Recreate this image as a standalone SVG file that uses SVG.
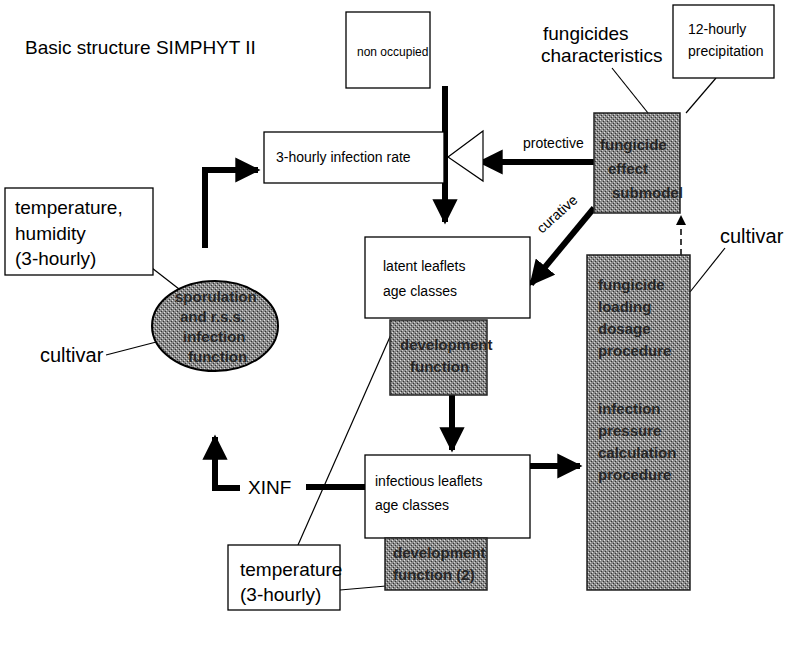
<svg xmlns="http://www.w3.org/2000/svg" width="799" height="654" viewBox="0 0 799 654">
<style>
.box{fill:#fff;stroke:#000;stroke-width:1.3}
.grey{fill:url(#dither);stroke:#222;stroke-width:1.5}
.t{font-family:"Liberation Sans",Arial,sans-serif;fill:#000}
.big{font-size:19px}
.sm{font-size:14px}
.gt{font-family:"Liberation Sans",Arial,sans-serif;font-size:15px;font-weight:bold;fill:#262626}
.thick{stroke:#000;stroke-width:6;fill:none}
.thin{stroke:#000;stroke-width:1.2;fill:none}
</style>
<defs>
<pattern id="dither" width="4" height="4" patternUnits="userSpaceOnUse">
<rect width="4" height="4" fill="#8a8a8a"/>
<rect x="0" y="0" width="1" height="1" fill="#e0e0e0"/>
<rect x="2" y="2" width="1" height="1" fill="#d0d0d0"/>
<rect x="1" y="3" width="1" height="1" fill="#333"/>
<rect x="3" y="1" width="1" height="1" fill="#333"/>
</pattern>
<marker id="ah" viewBox="0 0 10 10" refX="9" refY="5" markerWidth="4.2" markerHeight="4.2" markerUnits="strokeWidth" orient="auto">
<path d="M0,0 L10,5 L0,10 z" fill="#000"/>
</marker>
<marker id="ahs" viewBox="0 0 10 10" refX="9" refY="5" markerWidth="12" markerHeight="10" markerUnits="userSpaceOnUse" orient="auto">
<path d="M0,0 L10,5 L0,10 z" fill="#000"/>
</marker>
</defs>

<text class="t big" x="25" y="54">Basic structure SIMPHYT II</text>

<g id="connectors">
<line class="thin" x1="612" y1="68" x2="648" y2="113"/>
<line class="thin" x1="716" y1="78" x2="686" y2="113"/>
<line class="thin" x1="152" y1="268" x2="188" y2="296"/>
<line class="thin" x1="106" y1="355" x2="164" y2="340"/>
<line class="thin" x1="725" y1="248" x2="690" y2="292"/>
<line class="thin" x1="298" y1="545" x2="393" y2="330"/>
<line class="thin" x1="340" y1="590" x2="386" y2="586"/>
<polyline class="thick" points="205,248 205,170 258,170" marker-end="url(#ah)"/>
<line class="thick" x1="445" y1="86" x2="445" y2="222" marker-end="url(#ah)"/>
<line class="thick" x1="596" y1="162" x2="480" y2="162" marker-end="url(#ah)"/>
<line class="thick" x1="594" y1="208" x2="531" y2="284" marker-end="url(#ah)"/>
<line class="thick" x1="452" y1="395" x2="452" y2="450" marker-end="url(#ah)"/>
<line class="thick" x1="530" y1="466" x2="580" y2="466" marker-end="url(#ah)"/>
<line class="thick" x1="365" y1="487" x2="306" y2="487"/>
<polyline class="thick" points="240,488 215,488 215,437" marker-end="url(#ah)"/>
<line stroke="#000" stroke-width="1.5" stroke-dasharray="6,4" x1="681" y1="255" x2="681" y2="216" marker-end="url(#ahs)"/>
<line stroke="#000" stroke-width="1.5" stroke-dasharray="6,4" x1="681" y1="470" x2="681" y2="348"/>
<path d="M681,330 L674,356 L688,356 z" fill="#000"/>
</g>

<g id="non-occupied">
<rect class="box" x="346" y="12" width="84" height="76"/>
<text class="t" font-size="12" x="357" y="56">non occupied</text>
</g>

<g id="fungicides-characteristics">
<text class="t big" x="543" y="40">fungicides</text>
<text class="t big" x="541" y="62">characteristics</text>
</g>

<g id="precipitation">
<rect class="box" x="673" y="5" width="101" height="73"/>
<text class="t sm" x="688" y="34">12-hourly</text>
<text class="t sm" x="688" y="56">precipitation</text>
</g>

<g id="infection-rate">
<rect class="box" x="264" y="132" width="180" height="51"/>
<text class="t sm" x="276" y="162">3-hourly infection rate</text>
<polygon points="448,157 483,131 483,181" fill="#fff" stroke="#000" stroke-width="1.2"/>
</g>

<text class="t sm" x="523" y="148">protective</text>
<text class="t sm" transform="translate(542,234) rotate(-42)">curative</text>

<g id="fungicide-effect">
<rect class="grey" x="594" y="113" width="86" height="100"/>
<text class="gt" x="600" y="150">fungicide</text>
<text class="gt" x="608" y="174">effect</text>
<text class="gt" x="612" y="198">submodel</text>
</g>

<g id="temp-humidity">
<rect class="box" x="5" y="188" width="148" height="87"/>
<text class="t big" x="15" y="214">temperature,</text>
<text class="t big" x="15" y="240">humidity</text>
<text class="t big" x="15" y="265">(3-hourly)</text>
</g>

<g id="sporulation">
<ellipse cx="215" cy="326" rx="63" ry="45" fill="url(#dither)" stroke="#000" stroke-width="2"/>
<text class="gt" x="175" y="302">sporulation</text>
<text class="gt" x="180" y="322">and r.s.s.</text>
<text class="gt" x="183" y="342">infection</text>
<text class="gt" x="188" y="362">function</text>
</g>

<text class="t" font-size="20" x="40" y="362">cultivar</text>
<text class="t" font-size="20" x="720" y="243">cultivar</text>

<g id="latent">
<rect class="box" x="365" y="237" width="165" height="81"/>
<text class="t sm" x="383" y="271">latent leaflets</text>
<text class="t sm" x="383" y="296">age classes</text>
</g>

<g id="dev-function-1">
<rect class="grey" x="390" y="320" width="97" height="75"/>
<text class="gt" x="400" y="350">development</text>
<text class="gt" x="410" y="372">function</text>
</g>

<g id="infectious">
<rect class="box" x="365" y="455" width="165" height="83"/>
<text class="t sm" x="375" y="486">infectious leaflets</text>
<text class="t sm" x="375" y="510">age classes</text>
</g>

<g id="dev-function-2">
<rect class="grey" x="385" y="538" width="102" height="52"/>
<text class="gt" x="393" y="558">development</text>
<text class="gt" x="393" y="580">function (2)</text>
</g>

<g id="procedures">
<rect class="grey" x="587" y="255" width="103" height="335"/>
<text class="gt" x="598" y="290">fungicide</text>
<text class="gt" x="598" y="312">loading</text>
<text class="gt" x="598" y="334">dosage</text>
<text class="gt" x="598" y="356">procedure</text>
<text class="gt" x="598" y="414">infection</text>
<text class="gt" x="598" y="436">pressure</text>
<text class="gt" x="598" y="458">calculation</text>
<text class="gt" x="598" y="480">procedure</text>
</g>

<text class="t big" x="248" y="494">XINF</text>

<g id="temperature">
<rect class="box" x="228" y="545" width="112" height="65"/>
<text class="t big" x="240" y="576">temperature</text>
<text class="t big" x="240" y="601">(3-hourly)</text>
</g>
</svg>
